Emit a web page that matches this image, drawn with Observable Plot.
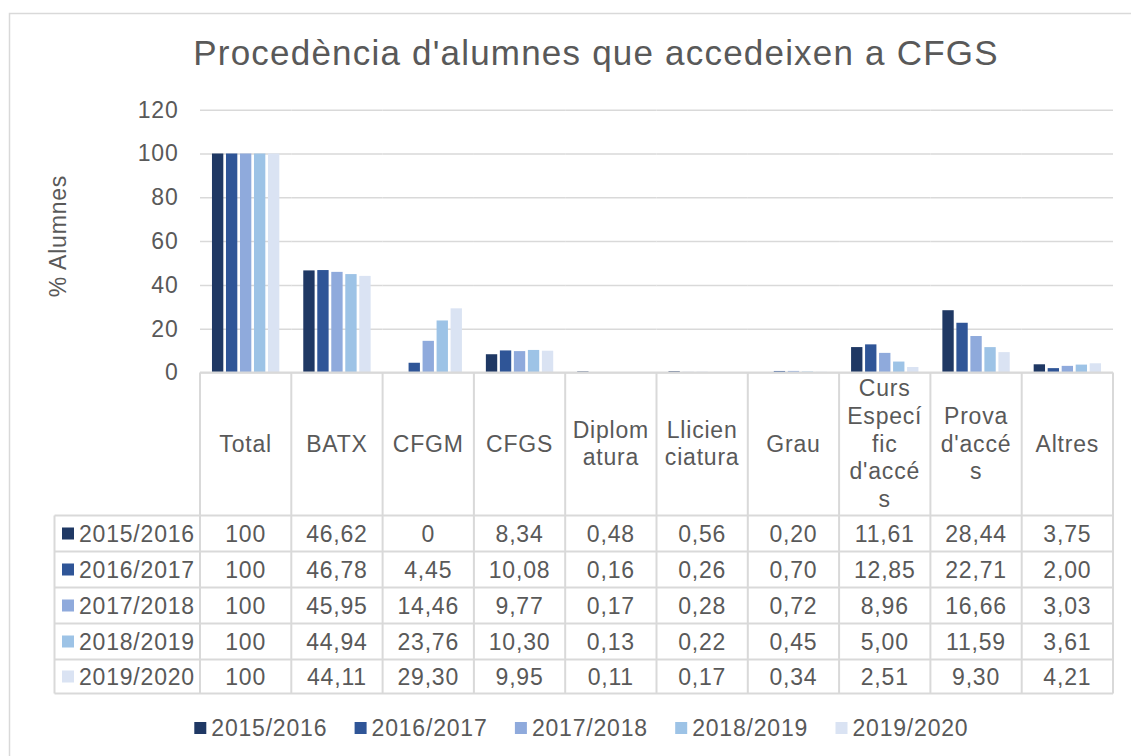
<!DOCTYPE html>
<html><head><meta charset="utf-8">
<script src="https://cdn.jsdelivr.net/npm/d3@7"></script>
<script src="https://cdn.jsdelivr.net/npm/@observablehq/plot@0.6"></script>
<style>
body{margin:0;background:#fff;}
#wrap{position:relative;width:1131px;height:756px;overflow:hidden;}
</style></head><body><div id="wrap"></div>
<script>
const titleText = "Procedència d'alumnes que accedeixen a CFGS";
const yLabel = "% Alumnes";
const categories = ["Total","BATX","CFGM","CFGS","Diplomatura","Lliciatura","Grau","Curs Específic d'accés","Prova d'accés","Altres"];
const headerLines = [["Total"],["BATX"],["CFGM"],["CFGS"],["Diplom","atura"],["Llicien","ciatura"],["Grau"],["Curs","Especí","fic","d'accé","s"],["Prova","d'accé","s"],["Altres"]];
const series = ["2015/2016","2016/2017","2017/2018","2018/2019","2019/2020"];
const colors = ["#1f3864","#2f5597","#8faadc","#9dc3e6","#dae3f3"];
const v2015 = [100,46.62,0,8.34,0.48,0.56,0.20,11.61,28.44,3.75];
const v2016 = [100,46.78,4.45,10.08,0.16,0.26,0.70,12.85,22.71,2.00];
const v2017 = [100,45.95,14.46,9.77,0.17,0.28,0.72,8.96,16.66,3.03];
const v2018 = [100,44.94,23.76,10.30,0.13,0.22,0.45,5.00,11.59,3.61];
const v2019 = [100,44.11,29.30,9.95,0.11,0.17,0.34,2.51,9.30,4.21];
const yTicks = [0,20,40,60,80,100,120];

const valuesBySeries = [v2015,v2016,v2017,v2018,v2019];
const data = [];
series.forEach((s,i)=>categories.forEach((c,j)=>data.push({series:s,cat:c,value:valuesBySeries[i][j]})));

const FONT = "'Liberation Sans', Arial, sans-serif";
const TXT = "#595959";
const LINE = "#d9d9d9";
const W = 1131, H = 756;
const y0 = 372.5, y120 = 109.7;
const fs = 23, ls = "0.8px";

const chart = Plot.plot({
  width: W, height: H,
  marginLeft: 200, marginRight: 18, marginTop: y120, marginBottom: H - y0,
  fx: {domain: categories, padding: 0, axis: null, round: false},
  x: {domain: series, paddingInner: 0.19, paddingOuter: 0.855, axis: null, round: false},
  y: {domain: [0,120]},
  color: {domain: series, range: colors},
  style: {fontFamily: FONT, color: TXT, background: "#fff", overflow: "visible"},
  marks: [
    Plot.gridY(yTicks, {stroke: LINE, strokeOpacity: 1, strokeWidth: 1.5}),
    Plot.axisY(yTicks, {tickSize: 0, tickPadding: 22, fontSize: fs, fill: TXT, label: null}),
    Plot.barY(data, {fx: "cat", x: "series", y: "value", fill: "series"})
  ]
});
document.getElementById("wrap").appendChild(chart);
d3.select(chart).selectAll("[aria-label='y-axis tick label'] text").attr("letter-spacing", ls);

const fx = chart.scale("fx");
const svg = d3.select(chart);
const g = svg.append("g").attr("font-family", FONT).attr("fill", TXT).attr("letter-spacing", ls);

// outer border
g.append("rect").attr("x", 9.5).attr("y", 13.5).attr("width", 1300).attr("height", 900)
  .attr("fill", "none").attr("stroke", LINE).attr("stroke-width", 1.5);

// title
g.append("text").attr("x", 596).attr("y", 65).attr("text-anchor", "middle")
  .attr("font-size", 35).attr("letter-spacing", "1.2px").text(titleText);

// y label
g.append("text").attr("transform", "translate(66,236) rotate(-90)").attr("text-anchor", "middle")
  .attr("font-size", fs).text(yLabel);

// table
const colX = categories.map(c => fx.apply(c));
const colEnd = colX[colX.length-1] + fx.bandwidth;
const edges = [...colX, colEnd];
const rowYs = [515.5, 551.5, 587.5, 623.5, 659.5, 693.5];
const tableLeft = 54.5;
const lines = g.append("g").attr("stroke", LINE).attr("stroke-width", 2);
lines.append("line").attr("x1", edges[0]).attr("x2", colEnd).attr("y1", y0).attr("y2", y0);
edges.forEach(x => lines.append("line").attr("x1", x).attr("x2", x).attr("y1", y0).attr("y2", rowYs[rowYs.length-1]));
rowYs.forEach(y => lines.append("line").attr("x1", tableLeft).attr("x2", colEnd).attr("y1", y).attr("y2", y));
lines.append("line").attr("x1", tableLeft).attr("x2", tableLeft).attr("y1", rowYs[0]).attr("y2", rowYs[rowYs.length-1]);

const lh = 27.75;
const headCenter = 443.5;
headerLines.forEach((lsArr, j) => {
  const cx = colX[j] + fx.bandwidth/2;
  const startY = headCenter - (lsArr.length-1)*lh/2;
  lsArr.forEach((t, k) => {
    g.append("text").attr("x", cx).attr("y", startY + k*lh).attr("dy", "0.35em")
      .attr("text-anchor", "middle").attr("font-size", fs).text(t);
  });
});

const fmt = v => (v === 0 || v === 100) ? String(v) : v.toFixed(2).replace(".", ",");
series.forEach((s, i) => {
  const cy = (rowYs[i] + rowYs[i+1]) / 2;
  g.append("rect").attr("x", 62).attr("y", cy - 6).attr("width", 12).attr("height", 12).attr("fill", colors[i]);
  g.append("text").attr("x", 79).attr("y", cy).attr("dy", "0.35em").attr("text-anchor", "start")
    .attr("font-size", fs).text(s);
  valuesBySeries[i].forEach((v, j) => {
    g.append("text").attr("x", colX[j] + fx.bandwidth/2).attr("y", cy).attr("dy", "0.35em")
      .attr("text-anchor", "middle").attr("font-size", fs).text(fmt(v));
  });
});

// legend
const legY = 728;
series.forEach((s, i) => {
  const x0 = 194.3 + i*160.3;
  g.append("rect").attr("x", x0).attr("y", legY - 6).attr("width", 12).attr("height", 12).attr("fill", colors[i]);
  g.append("text").attr("x", x0 + 17).attr("y", legY).attr("dy", "0.35em").attr("text-anchor", "start")
    .attr("font-size", fs).text(s);
});
</script></body></html>
